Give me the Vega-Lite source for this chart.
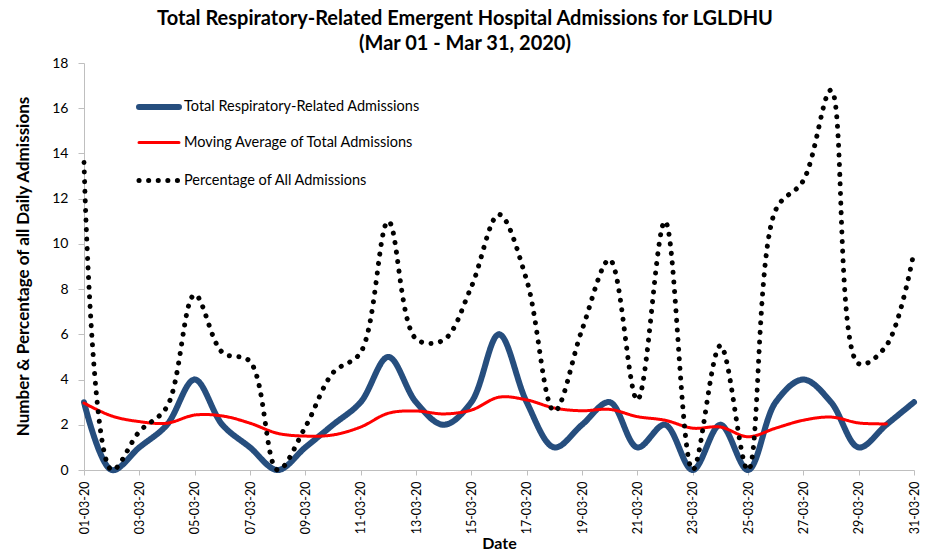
{
  "$schema": "https://vega.github.io/schema/vega-lite/v6.json",
  "autosize": "none",
  "width": 830,
  "height": 407,
  "padding": {"left": 84, "top": 63, "right": 16, "bottom": 83},
  "background": "white",
  "title": {
    "text": ["Total Respiratory-Related Emergent Hospital Admissions for LGLDHU", "(Mar 01 - Mar 31, 2020)"],
    "font": "Lato",
    "fontSize": 20,
    "fontWeight": "bold",
    "color": "#000000",
    "anchor": "middle",
    "dx": -34,
    "offset": 2,
    "lineHeight": 25
  },
  "config": {
    "view": {"stroke": null},
    "font": "Lato"
  },
  "data": {
    "values": [
      {"date": "01-03-20", "total": 3, "ma": 2.96, "pct": 13.6},
      {"date": "02-03-20", "total": 0, "ma": 2.39, "pct": 0},
      {"date": "03-03-20", "total": 1, "ma": 2.14, "pct": 1.7},
      {"date": "04-03-20", "total": 2, "ma": 2.07, "pct": 2.8},
      {"date": "05-03-20", "total": 4, "ma": 2.43, "pct": 7.75},
      {"date": "06-03-20", "total": 2, "ma": 2.39, "pct": 5.2},
      {"date": "07-03-20", "total": 1, "ma": 2.07, "pct": 4.8},
      {"date": "08-03-20", "total": 0, "ma": 1.62, "pct": 0},
      {"date": "09-03-20", "total": 1, "ma": 1.5, "pct": 1.9},
      {"date": "10-03-20", "total": 2, "ma": 1.55, "pct": 4.3},
      {"date": "11-03-20", "total": 3, "ma": 1.9, "pct": 5.2},
      {"date": "12-03-20", "total": 5, "ma": 2.51, "pct": 11},
      {"date": "13-03-20", "total": 3, "ma": 2.61, "pct": 5.8},
      {"date": "14-03-20", "total": 2, "ma": 2.48, "pct": 5.75},
      {"date": "15-03-20", "total": 3, "ma": 2.65, "pct": 8.1},
      {"date": "16-03-20", "total": 6, "ma": 3.22, "pct": 11.3},
      {"date": "17-03-20", "total": 3, "ma": 3.1, "pct": 8.4},
      {"date": "18-03-20", "total": 1, "ma": 2.74, "pct": 2.6},
      {"date": "19-03-20", "total": 2, "ma": 2.62, "pct": 6.2},
      {"date": "20-03-20", "total": 3, "ma": 2.68, "pct": 9.3},
      {"date": "21-03-20", "total": 1, "ma": 2.36, "pct": 3.1},
      {"date": "22-03-20", "total": 2, "ma": 2.2, "pct": 11},
      {"date": "23-03-20", "total": 0, "ma": 1.85, "pct": 0},
      {"date": "24-03-20", "total": 2, "ma": 1.9, "pct": 5.5},
      {"date": "25-03-20", "total": 0, "ma": 1.47, "pct": 0},
      {"date": "26-03-20", "total": 3, "ma": 1.85, "pct": 11.5},
      {"date": "27-03-20", "total": 4, "ma": 2.2, "pct": 12.8},
      {"date": "28-03-20", "total": 3, "ma": 2.34, "pct": 16.8},
      {"date": "29-03-20", "total": 1, "ma": 2.08, "pct": 4.7},
      {"date": "30-03-20", "total": 2, "ma": 2.04, "pct": 5.5},
      {"date": "31-03-20", "total": 3, "ma": null, "pct": 9.66}
    ]
  },
  "transform": [
    {"fold": ["total", "ma", "pct"], "as": ["series", "value"]}
  ],
  "mark": {
    "type": "line",
    "interpolate": "catmull-rom",
    "strokeCap": "round",
    "strokeJoin": "round"
  },
  "encoding": {
    "x": {
      "field": "date",
      "type": "ordinal",
      "sort": null,
      "scale": {"type": "point", "padding": 0},
      "axis": {
        "title": "Date",
        "titleFont": "Lato",
        "titleFontSize": 16,
        "titleFontWeight": "bold",
        "titleColor": "#000000",
        "titlePadding": 2,
        "values": ["01-03-20", "03-03-20", "05-03-20", "07-03-20", "09-03-20", "11-03-20", "13-03-20", "15-03-20", "17-03-20", "19-03-20", "21-03-20", "23-03-20", "25-03-20", "27-03-20", "29-03-20", "31-03-20"],
        "labelAngle": 270,
        "labelFont": "Lato",
        "labelFontSize": 12.5,
        "labelColor": "#000000",
        "labelPadding": 6,
        "domainColor": "#BFBFBF",
        "tickColor": "#BFBFBF",
        "tickSize": 5,
        "grid": false
      }
    },
    "y": {
      "field": "value",
      "type": "quantitative",
      "scale": {"domain": [0, 18], "nice": false},
      "axis": {
        "title": "Number & Percentage of  all Daily Admissions",
        "titleFont": "Lato",
        "titleFontSize": 17,
        "titleFontWeight": "bold",
        "titleColor": "#000000",
        "titleX": -52,
        "titleY": 203,
        "values": [0, 2, 4, 6, 8, 10, 12, 14, 16, 18],
        "labelFont": "Lato",
        "labelFontSize": 14,
        "labelColor": "#000000",
        "labelPadding": 10,
        "domainColor": "#BFBFBF",
        "tickColor": "#BFBFBF",
        "tickSize": 6,
        "grid": false
      }
    },
    "color": {
      "field": "series",
      "type": "nominal",
      "scale": {"domain": ["total", "ma", "pct"], "range": ["#264E7E", "#FF0000", "#000000"]},
      "legend": {
        "orient": "none",
        "legendX": 52,
        "legendY": 21,
        "title": null,
        "symbolType": "stroke",
        "symbolSize": 1600,
        "rowPadding": 2,
        "gridAlign": "all",
        "labelFont": "Lato",
        "labelFontSize": 14.5,
        "labelLimit": 0,
        "labelColor": "#000000",
        "labelOffset": 2,
        "labelExpr": "datum.value == 'total' ? 'Total Respiratory-Related Admissions' : datum.value == 'ma' ? 'Moving Average of Total Admissions' : 'Percentage of All Admissions'",
        "encode": {
          "symbols": {
            "update": {
              "strokeWidth": {"signal": "datum.value == 'total' ? 6 : datum.value == 'ma' ? 3 : 5"},
              "strokeDash": {"signal": "datum.value == 'pct' ? [0.1, 9.5] : [1, 0]"},
              "strokeCap": {"value": "round"}
            }
          }
        }
      }
    },
    "strokeDash": {
      "field": "series",
      "type": "nominal",
      "scale": {"domain": ["total", "ma", "pct"], "range": [[1, 0], [1, 0], [0.1, 9.5]]},
      "legend": null
    },
    "strokeWidth": {
      "field": "series",
      "type": "nominal",
      "scale": {"type": "ordinal", "domain": ["total", "ma", "pct"], "range": [6, 3, 5]},
      "legend": null
    }
  }
}
